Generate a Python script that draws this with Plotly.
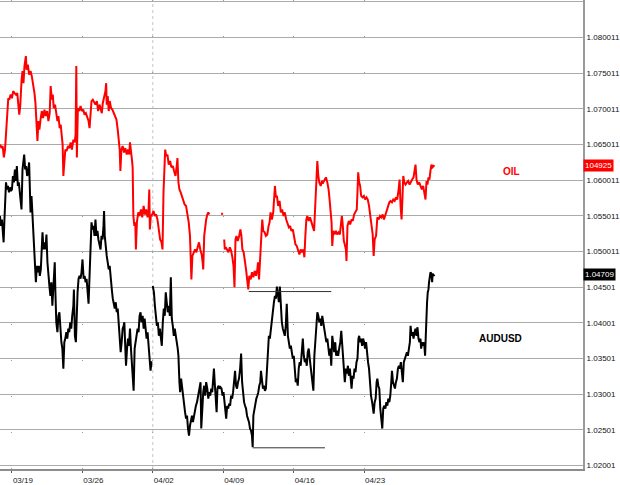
import plotly.graph_objects as go

# x = trading-day index (0 = Monday 03/19), y = value on the right scale
tick_days = [0, 5, 10, 15, 20, 25]
tick_dates = ["03/19", "03/26", "04/02", "04/09", "04/16", "04/23"]

y_tick_labels = ["1.085011", "1.080011", "1.075011", "1.070011", "1.065011", "1.060011",
                 "1.055011", "1.050011", "1.04501", "1.04001", "1.03501", "1.03001",
                 "1.02501", "1.02001"]

oil_series = [
    (-0.85, 1.0650), (-0.73, 1.0645), (-0.66, 1.0648), (-0.57, 1.0632), (-0.49, 1.0643),
    (-0.42, 1.0662), (-0.38, 1.0671), (-0.31, 1.0699), (-0.26, 1.0715), (-0.19, 1.0713),
    (-0.09, 1.0720), (0.00, 1.0715), (0.09, 1.0725), (0.19, 1.0722), (0.28, 1.0720),
    (0.38, 1.0722), (0.45, 1.0704), (0.52, 1.0692), (0.59, 1.0704), (0.64, 1.0732),
    (0.68, 1.0739), (0.75, 1.0753), (0.82, 1.0736), (0.89, 1.0760), (0.99, 1.0774),
    (1.04, 1.0755), (1.13, 1.0762), (1.22, 1.0748), (1.32, 1.0753), (1.41, 1.0746),
    (1.51, 1.0734), (1.60, 1.0722), (1.67, 1.0708), (1.74, 1.0676), (1.81, 1.0655),
    (1.88, 1.0683), (1.95, 1.0671), (2.03, 1.0685), (2.12, 1.0697), (2.21, 1.0687),
    (2.31, 1.0699), (2.40, 1.0690), (2.50, 1.0697), (2.59, 1.0683), (2.68, 1.0694),
    (2.75, 1.0732), (2.83, 1.0713), (2.90, 1.0720), (2.97, 1.0701), (3.06, 1.0706),
    (3.15, 1.0694), (3.23, 1.0683), (3.30, 1.0690), (3.39, 1.0673), (3.46, 1.0678),
    (3.53, 1.0657), (3.60, 1.0650), (3.65, 1.0606), (3.72, 1.0629), (3.79, 1.0643),
    (3.88, 1.0641), (3.98, 1.0648), (4.07, 1.0645), (4.17, 1.0653), (4.26, 1.0643),
    (4.36, 1.0657), (4.45, 1.0653), (4.52, 1.0664), (4.57, 1.0760), (4.61, 1.0632),
    (4.68, 1.0701), (4.78, 1.0697), (4.87, 1.0704), (4.97, 1.0697), (5.06, 1.0699),
    (5.16, 1.0692), (5.25, 1.0694), (5.34, 1.0687), (5.44, 1.0683), (5.51, 1.0673),
    (5.58, 1.0692), (5.65, 1.0711), (5.74, 1.0713), (5.84, 1.0708), (5.93, 1.0706),
    (6.03, 1.0711), (6.12, 1.0697), (6.22, 1.0706), (6.31, 1.0701), (6.38, 1.0694),
    (6.45, 1.0708), (6.54, 1.0715), (6.64, 1.0725), (6.69, 1.0736), (6.73, 1.0706),
    (6.80, 1.0718), (6.87, 1.0697), (6.94, 1.0711), (7.04, 1.0701), (7.13, 1.0699),
    (7.23, 1.0694),
    (7.32, 1.0692), (7.42, 1.0685), (7.51, 1.0671), (7.58, 1.0657), (7.65, 1.0643),
    (7.70, 1.0613), (7.77, 1.0643), (7.86, 1.0648), (7.96, 1.0639), (8.05, 1.0645),
    (8.15, 1.0636), (8.24, 1.0643), (8.33, 1.0636), (8.38, 1.0653), (8.45, 1.0634),
    (8.52, 1.0629), (8.57, 1.0618), (8.62, 1.0550), (8.69, 1.0536), (8.76, 1.0541),
    (8.80, 1.0503), (8.87, 1.0541), (8.97, 1.0555), (9.06, 1.0550), (9.16, 1.0559),
    (9.25, 1.0548), (9.35, 1.0564), (9.44, 1.0552), (9.53, 1.0559), (9.63, 1.0548),
    (9.70, 1.0559), (9.75, 1.0587), (9.79, 1.0531), (9.86, 1.0550), (9.96, 1.0552),
    (10.05, 1.0557), (10.15, 1.0550), (10.24, 1.0552), (10.33, 1.0545), (10.43, 1.0529),
    (10.52, 1.0517), (10.62, 1.0513), (10.69, 1.0503), (10.76, 1.0583), (10.83, 1.0625),
    (10.88, 1.0643), (10.95, 1.0634), (11.04, 1.0636), (11.13, 1.0622), (11.23, 1.0627),
    (11.32, 1.0618), (11.42, 1.0620), (11.51, 1.0613), (11.61, 1.0606), (11.70, 1.0620),
    (11.75, 1.0631), (11.82, 1.0597), (11.89, 1.0587), (11.98, 1.0583), (12.08, 1.0576),
    (12.17, 1.0571), (12.26, 1.0566), (12.36, 1.0564), (12.45, 1.0555), (12.55, 1.0541),
    (12.64, 1.0522), (12.69, 1.0480), (12.74, 1.0461), (12.81, 1.0494), (12.90, 1.0499),
    (13.00, 1.0503), (13.09, 1.0499), (13.18, 1.0506), (13.28, 1.0513), (13.37, 1.0503),
    (13.47, 1.0496), (13.54, 1.0485), (13.58, 1.0475), (13.65, 1.0522), (13.72, 1.0536),
    (13.79, 1.0545), (13.87, 1.0552), (13.94, 1.0555), (14.01, 1.0552),
    (None, None),
    (14.85, 1.0553), (14.99, 1.0553),
    (None, None),
    (15.07, 1.0517), (15.11, 1.0503), (15.18, 1.0506), (15.28, 1.0503), (15.37, 1.0499),
    (15.47, 1.0506), (15.56, 1.0501), (15.65, 1.0492), (15.73, 1.0480), (15.80, 1.0450),
    (15.87, 1.0517), (15.94, 1.0522), (16.03, 1.0515), (16.13, 1.0522), (16.22, 1.0531),
    (16.29, 1.0522), (16.36, 1.0503), (16.45, 1.0499), (16.53, 1.0489), (16.62, 1.0475),
    (16.71, 1.0459), (16.78, 1.0447), (16.85, 1.0466), (16.95, 1.0461), (17.04, 1.0471),
    (17.14, 1.0464), (17.23, 1.0473), (17.33, 1.0466), (17.42, 1.0475), (17.47, 1.0485),
    (17.54, 1.0461), (17.63, 1.0494), (17.70, 1.0536), (17.77, 1.0545), (17.84, 1.0529),
    (17.94, 1.0527), (18.03, 1.0522), (18.13, 1.0524), (18.22, 1.0536), (18.29, 1.0541),
    (18.36, 1.0555), (18.45, 1.0545), (18.55, 1.0555), (18.62, 1.0578), (18.67, 1.0592),
    (18.74, 1.0576), (18.81, 1.0578), (18.90, 1.0564), (19.00, 1.0571), (19.09, 1.0555),
    (19.18, 1.0559), (19.28, 1.0550), (19.37, 1.0555), (19.47, 1.0545), (19.56, 1.0541),
    (19.66, 1.0534), (19.75, 1.0536), (19.84, 1.0529), (19.94, 1.0531), (20.03, 1.0520),
    (20.13, 1.0510), (20.22, 1.0508), (20.31, 1.0501), (20.41, 1.0496), (20.50, 1.0503),
    (20.60, 1.0499), (20.69, 1.0503), (20.76, 1.0492), (20.83, 1.0522), (20.90, 1.0545),
    (20.97, 1.0550), (21.07, 1.0543), (21.16, 1.0548), (21.26, 1.0541), (21.35, 1.0534),
    (21.45, 1.0529), (21.52, 1.0559), (21.59, 1.0583), (21.63, 1.0597), (21.68, 1.0627),
    (21.75, 1.0606), (21.82, 1.0597), (21.92, 1.0592), (22.01, 1.0599), (22.10, 1.0597),
    (22.20, 1.0601), (22.29, 1.0604), (22.39, 1.0597), (22.48, 1.0587), (22.55, 1.0573),
    (22.62, 1.0559), (22.69, 1.0541),
    (22.74, 1.0508), (22.81, 1.0529), (22.91, 1.0524), (23.00, 1.0529), (23.09, 1.0524),
    (23.19, 1.0527), (23.28, 1.0524), (23.35, 1.0541), (23.42, 1.0550), (23.49, 1.0536),
    (23.56, 1.0515), (23.63, 1.0510), (23.71, 1.0503), (23.75, 1.0487), (23.82, 1.0536),
    (23.92, 1.0543), (24.01, 1.0538), (24.11, 1.0545), (24.20, 1.0543), (24.29, 1.0552),
    (24.39, 1.0555), (24.48, 1.0559), (24.53, 1.0583), (24.58, 1.0611), (24.65, 1.0597),
    (24.72, 1.0592), (24.79, 1.0578), (24.88, 1.0576), (24.98, 1.0578), (25.07, 1.0573),
    (25.17, 1.0576), (25.26, 1.0573), (25.35, 1.0564), (25.45, 1.0548), (25.54, 1.0536),
    (25.61, 1.0524), (25.68, 1.0494), (25.75, 1.0517), (25.85, 1.0522), (25.94, 1.0548),
    (26.04, 1.0545), (26.13, 1.0550), (26.22, 1.0548), (26.32, 1.0552), (26.41, 1.0545),
    (26.51, 1.0552), (26.60, 1.0555), (26.70, 1.0564), (26.79, 1.0569), (26.88, 1.0571),
    (26.98, 1.0569), (27.07, 1.0573), (27.17, 1.0571), (27.26, 1.0576), (27.35, 1.0573),
    (27.45, 1.0587), (27.52, 1.0601), (27.59, 1.0564), (27.66, 1.0545), (27.73, 1.0578),
    (27.78, 1.0606), (27.85, 1.0597), (27.94, 1.0594), (28.04, 1.0597), (28.13, 1.0599),
    (28.23, 1.0594), (28.32, 1.0599), (28.41, 1.0601), (28.51, 1.0604), (28.58, 1.0613),
    (28.65, 1.0622), (28.72, 1.0601), (28.81, 1.0594), (28.91, 1.0597), (29.00, 1.0592),
    (29.10, 1.0587), (29.19, 1.0592), (29.29, 1.0578), (29.36, 1.0573), (29.43, 1.0599),
    (29.50, 1.0594), (29.57, 1.0604), (29.64, 1.0601), (29.71, 1.0613), (29.78, 1.0622),
    (29.85, 1.0618), (29.92, 1.0620), (29.99, 1.0621),
]

audusd_series = [
    (-0.85, 1.0550), (-0.78, 1.0536), (-0.71, 1.0545), (-0.64, 1.0522), (-0.59, 1.0513),
    (-0.54, 1.0541), (-0.49, 1.0578), (-0.42, 1.0597), (-0.35, 1.0587), (-0.28, 1.0592),
    (-0.21, 1.0583), (-0.14, 1.0590), (-0.07, 1.0585), (0.00, 1.0587), (0.07, 1.0606),
    (0.14, 1.0597), (0.21, 1.0615), (0.28, 1.0599), (0.35, 1.0620), (0.42, 1.0592),
    (0.49, 1.0597), (0.57, 1.0583), (0.64, 1.0573), (0.68, 1.0559), (0.75, 1.0615),
    (0.82, 1.0625), (0.87, 1.0636), (0.94, 1.0615), (1.01, 1.0620), (1.08, 1.0606),
    (1.15, 1.0611), (1.22, 1.0625), (1.27, 1.0587), (1.32, 1.0555), (1.39, 1.0578),
    (1.46, 1.0550), (1.51, 1.0522), (1.55, 1.0503), (1.63, 1.0485), (1.70, 1.0457),
    (1.77, 1.0480), (1.84, 1.0471), (1.91, 1.0480), (1.98, 1.0466), (2.05, 1.0475),
    (2.12, 1.0499), (2.17, 1.0527), (2.24, 1.0503), (2.31, 1.0513), (2.38, 1.0503),
    (2.45, 1.0524), (2.52, 1.0485), (2.59, 1.0461), (2.66, 1.0452), (2.73, 1.0438),
    (2.80, 1.0457), (2.87, 1.0424), (2.94, 1.0457), (2.99, 1.0466), (3.04, 1.0485),
    (3.08, 1.0447), (3.15, 1.0401), (3.23, 1.0387), (3.30, 1.0410), (3.37, 1.0415),
    (3.44, 1.0392), (3.51, 1.0373), (3.58, 1.0364), (3.65, 1.0336), (3.72, 1.0373),
    (3.79, 1.0378), (3.86, 1.0387), (3.93, 1.0378), (4.00, 1.0392), (4.07, 1.0387),
    (4.14, 1.0401), (4.21, 1.0392), (4.28, 1.0410), (4.36, 1.0424), (4.40, 1.0447),
    (4.47, 1.0382), (4.54, 1.0373), (4.59, 1.0410), (4.66, 1.0443), (4.73, 1.0462),
    (4.80, 1.0466), (4.87, 1.0462), (4.94, 1.0471), (5.01, 1.0489), (5.09, 1.0462),
    (5.16, 1.0466), (5.23, 1.0457), (5.30, 1.0462), (5.37, 1.0447), (5.44, 1.0427),
    (5.51, 1.0466), (5.58, 1.0522), (5.65, 1.0541), (5.72, 1.0531), (5.79, 1.0536),
    (5.86, 1.0522), (5.93, 1.0545), (6.00, 1.0522), (6.07, 1.0529), (6.14, 1.0517),
    (6.22, 1.0508), (6.29, 1.0503), (6.36, 1.0522), (6.43, 1.0517), (6.50, 1.0536),
    (6.54, 1.0557), (6.59, 1.0522), (6.66, 1.0503), (6.73, 1.0494), (6.80, 1.0485),
    (6.87, 1.0475), (6.94, 1.0480), (7.01, 1.0457), (7.09, 1.0447), (7.16, 1.0434),
    (7.23, 1.0424),
    (7.30, 1.0420), (7.37, 1.0429), (7.44, 1.0415), (7.51, 1.0420), (7.58, 1.0396),
    (7.65, 1.0378), (7.72, 1.0359), (7.79, 1.0373), (7.86, 1.0392), (7.93, 1.0396),
    (7.98, 1.0401), (8.05, 1.0364), (8.10, 1.0340), (8.17, 1.0364), (8.24, 1.0378),
    (8.31, 1.0368), (8.38, 1.0392), (8.45, 1.0364), (8.52, 1.0340), (8.59, 1.0317),
    (8.64, 1.0305), (8.71, 1.0364), (8.78, 1.0373), (8.85, 1.0378), (8.92, 1.0392),
    (8.99, 1.0387), (9.06, 1.0410), (9.13, 1.0415), (9.20, 1.0401), (9.28, 1.0410),
    (9.35, 1.0392), (9.42, 1.0406), (9.49, 1.0387), (9.56, 1.0378), (9.63, 1.0387),
    (9.70, 1.0364), (9.77, 1.0350), (9.84, 1.0333), (9.91, 1.0345), (9.96, 1.0345),
    (None, None),
    (10.00, 1.0452), (10.08, 1.0443), (10.15, 1.0424), (10.22, 1.0410), (10.29, 1.0396),
    (10.36, 1.0401), (10.43, 1.0382), (10.50, 1.0392), (10.57, 1.0378), (10.64, 1.0368),
    (10.71, 1.0401), (10.78, 1.0420), (10.85, 1.0410), (10.92, 1.0443), (10.99, 1.0429),
    (11.06, 1.0415), (11.14, 1.0424), (11.21, 1.0410), (11.28, 1.0464), (11.35, 1.0406),
    (11.42, 1.0396), (11.49, 1.0382), (11.56, 1.0392), (11.63, 1.0378), (11.70, 1.0373),
    (11.77, 1.0364), (11.82, 1.0354), (11.89, 1.0317), (11.94, 1.0303), (12.01, 1.0322),
    (12.08, 1.0308), (12.15, 1.0298), (12.22, 1.0289), (12.29, 1.0275), (12.36, 1.0266),
    (12.43, 1.0270), (12.50, 1.0252), (12.57, 1.0242), (12.64, 1.0256), (12.71, 1.0261),
    (12.78, 1.0270), (12.85, 1.0261), (12.92, 1.0270), (12.99, 1.0280), (13.06, 1.0284),
    (13.14, 1.0289), (13.21, 1.0298), (13.28, 1.0308), (13.35, 1.0312), (13.39, 1.0317),
    (13.44, 1.0252), (13.51, 1.0280), (13.58, 1.0303), (13.65, 1.0312), (13.72, 1.0298),
    (13.79, 1.0317), (13.87, 1.0308), (13.94, 1.0294), (14.01, 1.0303), (14.08, 1.0298),
    (14.15, 1.0308), (14.22, 1.0303), (14.29, 1.0317), (14.34, 1.0336), (14.41, 1.0312),
    (14.48, 1.0294), (14.53, 1.0275), (14.59, 1.0308), (14.66, 1.0312), (14.74, 1.0308),
    (14.81, 1.0310), (14.88, 1.0308), (14.95, 1.0298), (15.02, 1.0303),
    (15.07, 1.0294), (15.14, 1.0284), (15.21, 1.0266), (15.28, 1.0284), (15.35, 1.0280),
    (15.42, 1.0287), (15.49, 1.0284), (15.56, 1.0298), (15.63, 1.0294), (15.70, 1.0303),
    (15.77, 1.0322), (15.84, 1.0333), (15.91, 1.0312), (15.98, 1.0308), (16.05, 1.0317),
    (16.12, 1.0322), (16.20, 1.0336), (16.27, 1.0357), (16.34, 1.0317), (16.41, 1.0298),
    (16.48, 1.0289), (16.55, 1.0284), (16.62, 1.0280), (16.69, 1.0270), (16.76, 1.0266),
    (16.83, 1.0261), (16.90, 1.0252), (16.97, 1.0249), (17.04, 1.0242), (17.09, 1.0226),
    (17.14, 1.0270), (17.21, 1.0280), (17.28, 1.0289), (17.35, 1.0294), (17.42, 1.0298),
    (17.49, 1.0303), (17.56, 1.0312), (17.63, 1.0317), (17.68, 1.0333), (17.75, 1.0317),
    (17.82, 1.0308), (17.89, 1.0312), (17.96, 1.0305), (18.03, 1.0308), (18.10, 1.0340),
    (18.17, 1.0373), (18.24, 1.0382), (18.31, 1.0378), (18.38, 1.0392), (18.46, 1.0410),
    (18.53, 1.0415), (18.60, 1.0429), (18.67, 1.0438), (18.74, 1.0434), (18.81, 1.0451),
    (18.88, 1.0438), (18.95, 1.0429), (19.02, 1.0451), (19.09, 1.0420), (19.16, 1.0401),
    (19.23, 1.0392), (19.30, 1.0387), (19.37, 1.0382), (19.44, 1.0396), (19.51, 1.0427),
    (19.59, 1.0382), (19.66, 1.0373), (19.73, 1.0364), (19.80, 1.0368), (19.87, 1.0354),
    (19.94, 1.0350), (20.01, 1.0354), (20.08, 1.0331), (20.15, 1.0317), (20.22, 1.0322),
    (20.29, 1.0312), (20.36, 1.0336), (20.43, 1.0345), (20.50, 1.0340), (20.57, 1.0364),
    (20.65, 1.0378), (20.72, 1.0354), (20.79, 1.0345), (20.86, 1.0350), (20.93, 1.0340),
    (21.00, 1.0359), (21.07, 1.0364), (21.14, 1.0350), (21.21, 1.0336), (21.28, 1.0322),
    (21.35, 1.0317), (21.40, 1.0305), (21.47, 1.0354), (21.54, 1.0373), (21.61, 1.0382),
    (21.68, 1.0415), (21.75, 1.0410), (21.82, 1.0401), (21.89, 1.0406), (21.96, 1.0396),
    (22.03, 1.0410), (22.10, 1.0401), (22.18, 1.0387), (22.25, 1.0382), (22.32, 1.0373),
    (22.39, 1.0378), (22.46, 1.0364), (22.53, 1.0354), (22.60, 1.0364), (22.67, 1.0340),
    (22.74, 1.0382), (22.81, 1.0368), (22.88, 1.0359), (22.95, 1.0373), (23.02, 1.0354),
    (23.09, 1.0361), (23.16, 1.0354), (23.23, 1.0364), (23.31, 1.0373), (23.38, 1.0389),
    (23.45, 1.0364), (23.52, 1.0350), (23.59, 1.0331), (23.63, 1.0317), (23.71, 1.0336),
    (23.78, 1.0329), (23.85, 1.0340), (23.92, 1.0326), (23.99, 1.0336), (24.06, 1.0317),
    (24.11, 1.0308), (24.18, 1.0326), (24.25, 1.0322), (24.32, 1.0336), (24.39, 1.0331),
    (24.46, 1.0345), (24.53, 1.0350), (24.60, 1.0378), (24.65, 1.0382), (24.72, 1.0373),
    (24.79, 1.0378), (24.86, 1.0368), (24.93, 1.0378), (25.00, 1.0373), (25.07, 1.0364),
    (25.14, 1.0373), (25.21, 1.0354), (25.28, 1.0345), (25.35, 1.0336), (25.42, 1.0312),
    (25.49, 1.0298), (25.57, 1.0289), (25.64, 1.0280), (25.68, 1.0273), (25.75, 1.0289),
    (25.82, 1.0294), (25.89, 1.0317), (25.94, 1.0322), (26.01, 1.0312), (26.08, 1.0308),
    (26.15, 1.0280), (26.22, 1.0266), (26.29, 1.0252), (26.36, 1.0280), (26.44, 1.0284),
    (26.51, 1.0280), (26.58, 1.0289), (26.65, 1.0284), (26.72, 1.0294), (26.79, 1.0289),
    (26.86, 1.0298), (26.93, 1.0317), (26.98, 1.0333), (27.05, 1.0317), (27.12, 1.0312),
    (27.19, 1.0308), (27.26, 1.0317), (27.33, 1.0322), (27.40, 1.0336), (27.47, 1.0340),
    (27.54, 1.0336), (27.61, 1.0345), (27.68, 1.0331), (27.75, 1.0317), (27.82, 1.0345),
    (27.90, 1.0350), (27.97, 1.0354), (28.04, 1.0359), (28.11, 1.0354), (28.18, 1.0364),
    (28.25, 1.0373), (28.30, 1.0396), (28.37, 1.0382), (28.44, 1.0387), (28.51, 1.0378),
    (28.58, 1.0387), (28.65, 1.0392), (28.72, 1.0382), (28.79, 1.0394), (28.86, 1.0378),
    (28.93, 1.0373), (29.00, 1.0378), (29.05, 1.0364), (29.12, 1.0373), (29.19, 1.0368),
    (29.26, 1.0373), (29.33, 1.0354), (29.38, 1.0382), (29.43, 1.0420), (29.47, 1.0429),
    (29.52, 1.0443), (29.57, 1.0447), (29.61, 1.0457), (29.66, 1.0462), (29.71, 1.0471),
    (29.78, 1.0469), (29.83, 1.0457), (29.87, 1.0469), (29.94, 1.0466), (29.99, 1.0468),
]

# horizontal marker lines drawn on the chart
level_values = [1.0444, 1.0225]
level_starts = [16.81, 17.09]
level_ends = [22.67, 22.22]

oil_last_label = "104925"
aud_last_label = "1.04709"

FONT = "Liberation Sans, Arial, sans-serif"

oil_t = [p[0] for p in oil_series]
oil_v = [p[1] for p in oil_series]
aud_t = [p[0] for p in audusd_series]
aud_v = [p[1] for p in audusd_series]
y_tick_vals = [float(s) for s in y_tick_labels]

fig = go.Figure()
fig.add_trace(go.Scatter(x=oil_t, y=oil_v, mode="lines",
                         line=dict(color="#ff0000", width=2), connectgaps=False,
                         hoverinfo="skip", showlegend=False))
fig.add_trace(go.Scatter(x=aud_t, y=aud_v, mode="lines",
                         line=dict(color="#000000", width=2), connectgaps=False,
                         hoverinfo="skip", showlegend=False))
for lv, ls, le in zip(level_values, level_starts, level_ends):
    fig.add_trace(go.Scatter(x=[ls, le], y=[lv, lv], mode="lines",
                             line=dict(color="#333333", width=1),
                             hoverinfo="skip", showlegend=False))

# month boundary (04/02) dotted line
fig.add_shape(type="line", xref="x", yref="paper", x0=tick_days[2], x1=tick_days[2],
              y0=0, y1=1, line=dict(color="#c4c4c4", width=1, dash="dot"), layer="below")

fig.add_annotation(xref="paper", yref="paper", x=0.877, y=0.634, text="<b>OIL</b>",
                   xanchor="center", yanchor="middle",
                   showarrow=False, font=dict(family=FONT, size=10, color="#ff0000"))
fig.add_annotation(xref="paper", yref="paper", x=0.858, y=0.279, text="<b>AUDUSD</b>",
                   xanchor="center", yanchor="middle",
                   showarrow=False, font=dict(family=FONT, size=10, color="#000000"))

last_oil = [v for v in oil_v if v is not None][-1]
last_aud = [v for v in aud_v if v is not None][-1]
fig.add_annotation(xref="paper", yref="y", x=1.0, y=last_oil, xanchor="left", yanchor="middle",
                   text=oil_last_label, showarrow=False, bgcolor="#ff0000", borderpad=1,
                   font=dict(family=FONT, size=8, color="#ffffff"))
fig.add_annotation(xref="paper", yref="y", x=1.0, y=last_aud, xanchor="left", yanchor="middle",
                   text=aud_last_label, showarrow=False, bgcolor="#000000", borderpad=1,
                   font=dict(family=FONT, size=8, color="#ffffff"))

fig.update_layout(
    width=620, height=485,
    margin=dict(l=0, r=34, t=0, b=15),
    paper_bgcolor="#ffffff", plot_bgcolor="#ffffff",
    hovermode=False,
    font=dict(family=FONT, size=8, color="#000000"),
)
fig.update_xaxes(
    range=[-0.847, 40.54], tickvals=tick_days, ticktext=tick_dates,
    showgrid=True, gridcolor="#9a9a9a", gridwidth=1, griddash="1px,35px",
    showline=True, linecolor="#8c8c8c", linewidth=2,
    ticks="outside", ticklen=2, tickcolor="#555555",
    tickfont=dict(family=FONT, size=8, color="#222222"),
    ticklabelshift=11, zeroline=False, fixedrange=True,
)
fig.update_yaxes(
    side="right", range=[1.019529, 1.085263], tickvals=y_tick_vals, ticktext=y_tick_labels,
    showgrid=True, gridcolor="#ababab", gridwidth=1,
    showline=True, linecolor="#9a9a9a", linewidth=2,
    ticks="", tickfont=dict(family=FONT, size=8, color="#111111"),
    zeroline=False, fixedrange=True,
)

fig.write_html("out.html", config={"displayModeBar": False},
               post_script="document.body.style.margin='0';document.body.style.overflow='hidden';")
